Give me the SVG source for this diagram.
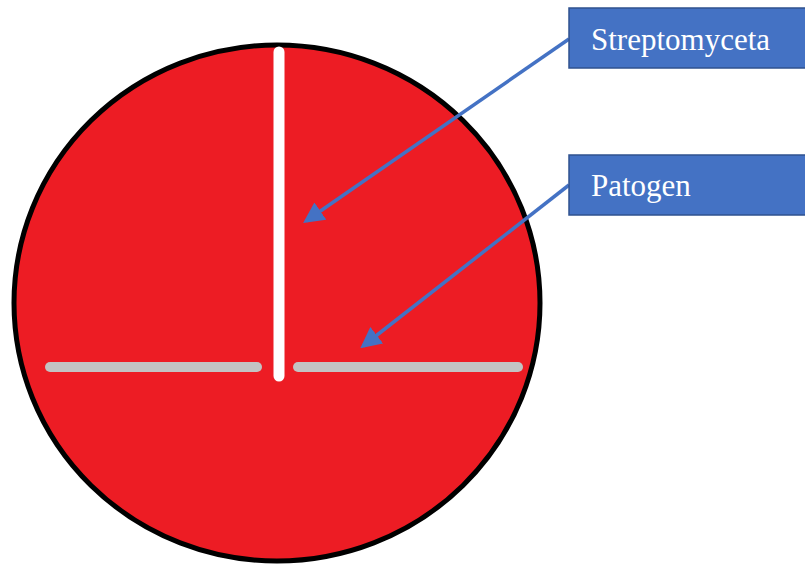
<svg xmlns="http://www.w3.org/2000/svg" width="805" height="566" viewBox="0 0 805 566">
<style>
.lbl{fill:#4472C4;stroke:#2F528F;stroke-width:1.5}
.lt{font-family:"Liberation Serif","Times New Roman",serif;font-size:31px;fill:#fff}
.con{stroke:#4472C4;stroke-width:3.5;fill:none;marker-end:url(#ah)}
</style>
<defs>
<marker id="ah" markerWidth="6" markerHeight="6" refX="5" refY="3" orient="auto" markerUnits="strokeWidth">
<path d="M0,0 L6,3 L0,6 z" fill="#4472C4"/>
</marker>
</defs>
<rect width="805" height="566" fill="#fff"/>
<g id="dish">
<ellipse cx="277" cy="303" rx="263" ry="258" fill="#ED1C24" stroke="#000" stroke-width="5"/>
<line x1="279" y1="52" x2="279" y2="376" stroke="#fff" stroke-width="11" stroke-linecap="round"/>
<line x1="50" y1="367" x2="257" y2="367" stroke="#C3C3C3" stroke-width="10" stroke-linecap="round"/>
<line x1="298" y1="367" x2="518" y2="367" stroke="#C3C3C3" stroke-width="10" stroke-linecap="round"/>
</g>
<g id="connectors">
<line class="con" x1="569" y1="39" x2="306" y2="221"/>
<line class="con" x1="569" y1="185" x2="363" y2="346"/>
</g>
<g id="streptomyceta">
<rect class="lbl" x="569" y="8" width="240" height="60"/>
<text class="lt" x="591" y="50">Streptomyceta</text>
</g>
<g id="patogen">
<rect class="lbl" x="569" y="155" width="240" height="60"/>
<text class="lt" x="591" y="196">Patogen</text>
</g>
</svg>
